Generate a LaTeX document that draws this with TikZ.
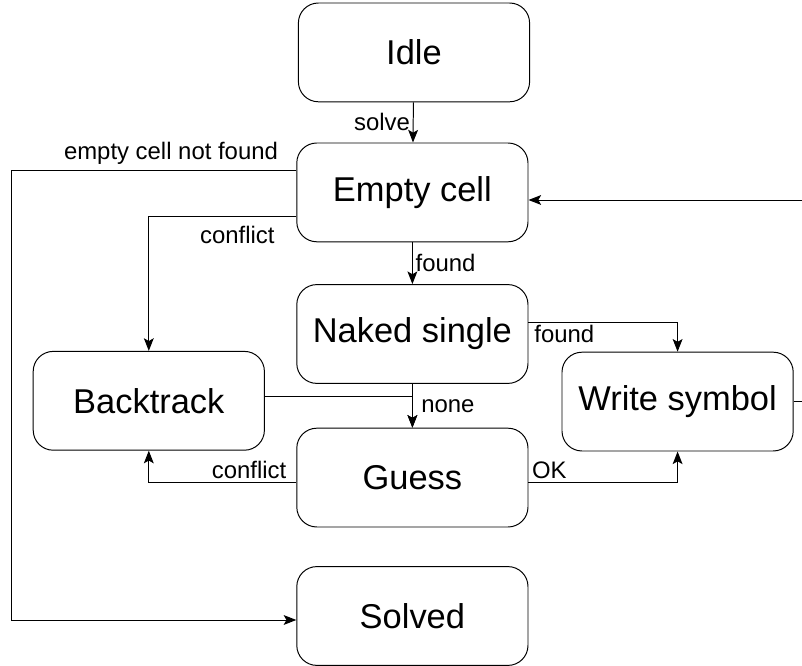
\documentclass[tikz,border=0pt]{standalone}
\usepackage{fontspec}
\setmainfont{Liberation Sans}
\usepackage{tikz}
\usetikzlibrary{arrows.meta,calc}
\usetikzlibrary{positioning}

\begin{document}
\begin{tikzpicture}[
                state/.style={draw, line width=0.7pt, rounded corners=0.5cm, minimum width=5.78cm, minimum height=2.47cm, font=\fontsize{24.5}{29}\selectfont},
                link/.style={line width=0.7pt, -{Stealth[length=9pt, width=7pt, inset=2pt]}},
                lab/.style={font=\fontsize{17}{20}\selectfont, inner sep=2pt}
            ]
                \useasboundingbox (0,0) rectangle (20.05,16.65);
                % states
                \node[state] (Idle) at (10.35,15.34) {Idle};
                \node[state] (Empty) at (10.31,11.84) {Empty cell};
                \node[state] (Naked) at (10.31,8.3) {Naked single};
                \node[state] (Backtrack) at (3.72,6.63) {Backtrack};
                \node[state] (Write) at (16.94,6.61) {Write symbol};
                \node[state] (Guess) at (10.31,4.71) {Guess};
                \node[state] (Solved) at (10.31,1.25) {Solved};
                % transitions
                \draw[link] (Idle) -- node[lab, left] {solve} (Empty);
                \draw[link] ([yshift=0.54cm]Empty.west) -- ++(-7.12,0) node[lab, pos=0.44, above=2pt] {empty cell not found} |- ([yshift=-0.1cm]Solved.west);
                \draw[link] ([yshift=-0.59cm]Empty.west) -| node[lab, pos=0.2, below=5pt] {conflict} (Backtrack.north);
                \draw[link] (Empty) -- node[lab, right] {found} (Naked);
                \draw[link] ([yshift=0.3cm]Naked.east) -| node[lab, pos=0.12, below] {found} (Write.north);
                \draw[link] (Naked) -- node[lab, right=4pt] {none} (Guess);
                \draw[link] ([yshift=0.1cm]Backtrack.east) -| (Guess.north);
                \draw[link] ([yshift=-0.11cm]Guess.west) -| node[lab, pos=0.16, above] {conflict} (Backtrack.south);
                \draw[link] ([yshift=-0.11cm]Guess.east) -| node[lab, pos=0.07, above] {OK} (Write.south);
                \draw[link] (Write.east) -- ++(0.5,0) |- ([yshift=-0.19cm]Empty.east);
            
            \end{tikzpicture}
\end{document}
